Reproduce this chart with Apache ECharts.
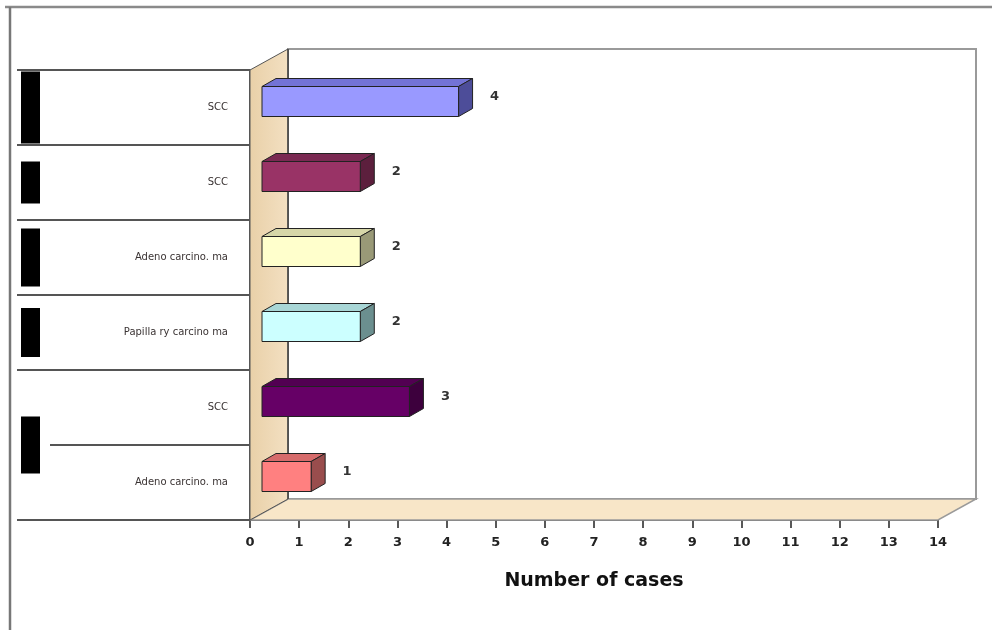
<!DOCTYPE html>
<html>
<head>
<meta charset="utf-8">
<script src="https://cdn.jsdelivr.net/npm/echarts@6/dist/echarts.min.js"></script>
<style>html,body{margin:0;padding:0;background:#fff;}#c{width:992px;height:630px;}</style>
</head>
<body>
<div id="c"></div>
<script>
// ---- data ----
const categories = ['SCC', 'SCC', 'Adeno carcino. ma', 'Papilla ry carcino ma', 'SCC', 'Adeno carcino. ma'];
const values = [4, 2, 2, 2, 3, 1];
const frontColors = ['#9999ff', '#993366', '#ffffcc', '#ccffff', '#660066', '#ff8080'];
const topColors   = ['#7373d6', '#7a2952', '#d6d6a8', '#a8d6d6', '#520052', '#d66b6b'];
const sideColors  = ['#4d4d99', '#5c1f3d', '#999977', '#6b8f8f', '#3d003d', '#994d4d'];
const xTicks = [0, 14, 1]; // min, max, interval
const axisTitle = 'Number of cases';
// group marker boxes: [first category, last category, box height]
const groupBoxes = [[0, 0, 72], [1, 1, 42], [2, 2, 58], [3, 3, 49], [4, 5, 57]];

const chart = echarts.init(document.getElementById('c'));
const BAR_OX = 12, BAR_OY = -6, BAR_H = 30, BDX = 14, BDY = -8;

function renderBar(params, api) {
  const idx = api.value(0);
  const val = api.value(1);
  const p0 = api.coord([0, idx]);
  const p1 = api.coord([val, idx]);
  const x0 = p0[0] + BAR_OX, x1 = p1[0] + BAR_OX;
  const yc = p0[1] + BAR_OY;
  const yt = yc - BAR_H / 2, yb = yc + BAR_H / 2;
  const st = { stroke: '#222', lineWidth: 1 };
  return {
    type: 'group',
    children: [
      { type: 'polygon', shape: { points: [[x0, yt], [x1, yt], [x1 + BDX, yt + BDY], [x0 + BDX, yt + BDY]] },
        style: Object.assign({ fill: topColors[idx] }, st) },
      { type: 'polygon', shape: { points: [[x1, yt], [x1 + BDX, yt + BDY], [x1 + BDX, yb + BDY], [x1, yb]] },
        style: Object.assign({ fill: sideColors[idx] }, st) },
      { type: 'rect', shape: { x: x0, y: yt, width: x1 - x0, height: BAR_H },
        style: Object.assign({ fill: frontColors[idx] }, st) },
      { type: 'text', x: x1 + BDX + 22, y: yc - 5,
        style: { text: String(val), fill: '#333', font: 'bold 13px "DejaVu Sans", Arial, sans-serif',
          align: 'center', verticalAlign: 'middle' } }
    ]
  };
}

const option = {
  backgroundColor: '#fff',
  animation: false,
  grid: { left: 250, right: 54, top: 70, bottom: 110, containLabel: false },
  xAxis: {
    type: 'value', min: xTicks[0], max: xTicks[1], interval: xTicks[2],
    axisLine: { show: true, lineStyle: { color: '#222', width: 1.5 } },
    axisTick: { show: true, length: 8, lineStyle: { color: '#222', width: 1.5 } },
    axisLabel: { margin: 16, color: '#222', fontSize: 13, fontWeight: 'bold', fontFamily: '"DejaVu Sans", Arial, sans-serif' },
    splitLine: { show: false },
    name: axisTitle, nameLocation: 'middle', nameGap: 52,
    nameTextStyle: { color: '#111', fontSize: 19, fontWeight: 'bold', fontFamily: '"DejaVu Sans", Arial, sans-serif' }
  },
  yAxis: {
    type: 'category', data: categories, inverse: true,
    axisLine: { show: true, lineStyle: { color: '#222', width: 1.5 } },
    axisTick: { show: false },
    axisLabel: { margin: 22, color: '#3a3333', fontSize: 10, fontFamily: '"DejaVu Sans", Arial, sans-serif' },
    splitLine: { show: false }
  },
  series: [{
    type: 'custom', renderItem: renderBar, z: 10,
    encode: { x: 1, y: 0 },
    data: values.map((v, i) => [i, v])
  }]
};
chart.setOption(option);

// decorative 3D walls, table lines and frame derived from the axes
const px = v => chart.convertToPixel({ xAxisIndex: 0 }, v);
const py = i => chart.convertToPixel({ yAxisIndex: 0 }, i);
const xL = px(xTicks[0]), xR = px(xTicks[1]);
const band = py(1) - py(0);
const yT = py(0) - band / 2, yB = py(categories.length - 1) + band / 2;
const DX = 38, DY = -21;
const g = [];
// back wall
g.push({ type: 'polygon', z: 1, shape: { points: [[xL + DX, yT + DY], [xR + DX, yT + DY], [xR + DX, yB + DY], [xL + DX, yB + DY]] },
  style: { fill: '#fff', stroke: '#9a9a9a', lineWidth: 2 } });
// floor
g.push({ type: 'polygon', z: 2, shape: { points: [[xL, yB], [xR, yB], [xR + DX, yB + DY], [xL + DX, yB + DY]] },
  style: { fill: '#f8e6c8', stroke: '#9a9a9a', lineWidth: 1.5 } });
// side wall
g.push({ type: 'polygon', z: 3, shape: { points: [[xL, yT], [xL + DX, yT + DY], [xL + DX, yB + DY], [xL, yB]] },
  style: { fill: new echarts.graphic.LinearGradient(0, 0, 1, 0, [{ offset: 0, color: '#e9d0a8' }, { offset: 1, color: '#f3e0c2' }]),
    stroke: '#555', lineWidth: 1 } });
g.push({ type: 'line', z: 4, shape: { x1: xL + DX, y1: yT + DY, x2: xL + DX, y2: yB + DY }, style: { stroke: '#444', lineWidth: 1.5 } });
// table lines
for (let k = 0; k <= categories.length; k++) {
  const y = yT + k * band;
  const startX = (k === 5) ? 50 : 17;
  g.push({ type: 'line', z: 4, shape: { x1: startX, y1: y, x2: xL, y2: y }, style: { stroke: '#555', lineWidth: 2 } });
}
// group boxes
groupBoxes.forEach(([a, b, h]) => {
  const yc = (py(a) + py(b)) / 2;
  g.push({ type: 'rect', z: 4, shape: { x: 21, y: yc - h / 2, width: 19, height: h }, style: { fill: '#000' } });
});
// outer frame
g.push({ type: 'line', z: 4, shape: { x1: 5, y1: 7, x2: 992, y2: 7 }, style: { stroke: '#8a8a8a', lineWidth: 2.5 } });
g.push({ type: 'line', z: 4, shape: { x1: 10, y1: 7, x2: 10, y2: 630 }, style: { stroke: '#777', lineWidth: 2.5 } });
chart.setOption({ graphic: g });
</script>
</body>
</html>
